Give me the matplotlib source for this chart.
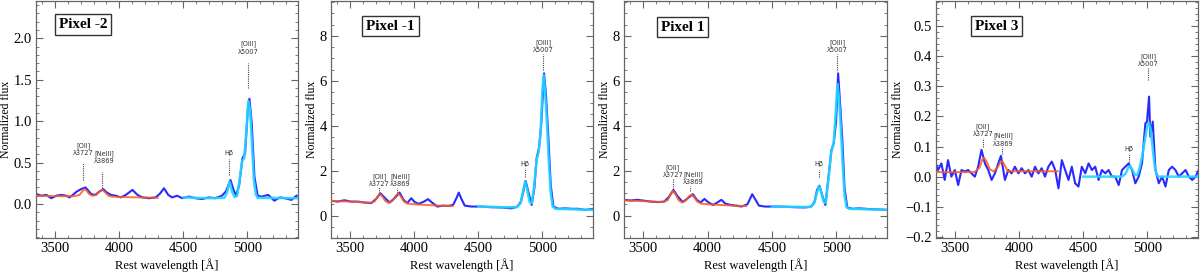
import matplotlib
matplotlib.use("Agg")
import matplotlib.pyplot as plt
from matplotlib.ticker import MultipleLocator, FormatStrFormatter

plt.rcParams['font.family'] = ['Liberation Serif', 'DejaVu Serif']
plt.rcParams['mathtext.fontset'] = 'dejavuserif'

# ---------------- data ----------------
panel_names = ["Pixel -2", "Pixel -1", "Pixel 1", "Pixel 3"]

# Panel 1 (Pixel -2)
wl1 = [3353, 3392, 3431, 3469, 3508, 3547, 3586, 3612, 3637, 3668, 3702, 3736, 3754, 3780, 3813,
       3844, 3875, 3901, 3935, 3974, 4012, 4051, 4103, 4142, 4180, 4232, 4284, 4315, 4349, 4382,
       4413, 4452, 4491, 4543, 4594, 4646, 4698, 4749, 4801, 4832, 4868, 4892, 4912, 4936, 4961,
       4982, 5003, 5016, 5034, 5055, 5080, 5111, 5163, 5210, 5254, 5293, 5344, 5383]
f1 = [0.12, 0.10, 0.11, 0.07, 0.10, 0.11, 0.10, 0.08, 0.11, 0.15, 0.18, 0.20, 0.17, 0.12, 0.11,
      0.15, 0.18, 0.14, 0.11, 0.10, 0.08, 0.11, 0.17, 0.11, 0.08, 0.07, 0.08, 0.12, 0.19, 0.11,
      0.08, 0.10, 0.07, 0.09, 0.07, 0.06, 0.08, 0.07, 0.10, 0.15, 0.29, 0.17, 0.10, 0.23, 0.55,
      0.61, 1.13, 1.27, 0.97, 0.33, 0.10, 0.09, 0.11, 0.04, 0.08, 0.07, 0.05, 0.10]
owl1 = [3350, 3500, 3650, 3690, 3710, 3727, 3745, 3765, 3790, 3820, 3845, 3869, 3890, 3915, 3940, 4000, 4150, 4300]
of1 = [0.10, 0.095, 0.095, 0.11, 0.15, 0.18, 0.16, 0.12, 0.10, 0.11, 0.15, 0.17, 0.14, 0.10, 0.09, 0.085, 0.08, 0.075]
cwl1 = [4500, 4700, 4820, 4840, 4861, 4880, 4900, 4920, 4940, 4959, 4975, 4990, 5007, 5020, 5035, 5050, 5065, 5080, 5400]
cf1 = [0.08, 0.07, 0.075, 0.13, 0.27, 0.15, 0.085, 0.10, 0.30, 0.52, 0.55, 0.85, 1.24, 1.15, 0.75, 0.30, 0.12, 0.075, 0.07]

# Panel 2 (Pixel -1)
wl2 = [3350, 3402, 3454, 3507, 3559, 3611, 3663, 3702, 3736, 3768, 3807, 3846, 3885, 3916, 3945,
       3976, 4003, 4034, 4076, 4107, 4138, 4180, 4224, 4264, 4303, 4329, 4347, 4368, 4394, 4446,
       4525, 4603, 4681, 4759, 4806, 4832, 4851, 4869, 4890, 4916, 4937, 4955, 4973, 4989, 5013,
       5028, 5047, 5065, 5086, 5125, 5177, 5229, 5281, 5334, 5399]
f2 = [0.66, 0.62, 0.68, 0.62, 0.62, 0.58, 0.55, 0.74, 0.99, 0.80, 0.58, 0.77, 1.02, 0.70, 0.55,
      0.77, 0.60, 0.52, 0.62, 0.73, 0.58, 0.40, 0.44, 0.43, 0.47, 0.77, 1.02, 0.74, 0.44, 0.40,
      0.40, 0.37, 0.36, 0.32, 0.40, 0.62, 1.07, 1.54, 1.07, 0.47, 1.22, 2.55, 3.00, 3.90, 6.33,
      5.37, 3.44, 1.36, 0.40, 0.30, 0.32, 0.30, 0.30, 0.25, 0.30]
owl2 = [3350, 3500, 3650, 3690, 3710, 3730, 3750, 3775, 3800, 3830, 3855, 3875, 3895, 3920, 3950, 4000, 4100, 4200, 4300]
of2 = [0.65, 0.62, 0.57, 0.62, 0.82, 0.96, 0.85, 0.64, 0.56, 0.65, 0.88, 0.98, 0.85, 0.62, 0.53, 0.50, 0.47, 0.44, 0.42]
cwl2 = [4500, 4700, 4800, 4830, 4850, 4865, 4880, 4900, 4918, 4935, 4955, 4970, 4985, 5000, 5010, 5020, 5035, 5050, 5065, 5080, 5100, 5400]
cf2 = [0.40, 0.37, 0.37, 0.55, 1.10, 1.52, 1.20, 0.60, 0.55, 1.30, 2.50, 2.80, 3.60, 5.60, 6.25, 5.60, 4.20, 2.40, 1.00, 0.40, 0.30, 0.25]

# Panel 3 (Pixel 1)
wl3 = [3350, 3402, 3454, 3507, 3559, 3611, 3663, 3702, 3734, 3768, 3807, 3846, 3885, 3916, 3945,
       3976, 4003, 4042, 4076, 4107, 4138, 4180, 4224, 4264, 4310, 4347, 4373, 4399, 4446, 4525,
       4603, 4681, 4759, 4806, 4832, 4851, 4869, 4890, 4916, 4942, 4963, 4981, 4999, 5015, 5031,
       5047, 5065, 5086, 5125, 5177, 5229, 5281, 5334, 5399]
f3 = [0.70, 0.67, 0.70, 0.66, 0.62, 0.60, 0.62, 0.85, 1.14, 0.85, 0.60, 0.77, 0.95, 0.70, 0.58,
      0.74, 0.60, 0.47, 0.58, 0.70, 0.53, 0.47, 0.44, 0.40, 0.50, 0.95, 0.70, 0.44, 0.40, 0.40,
      0.39, 0.37, 0.36, 0.40, 0.62, 1.14, 1.33, 0.92, 0.47, 1.81, 2.92, 3.22, 4.18, 6.33, 4.92,
      3.44, 1.22, 0.36, 0.30, 0.32, 0.30, 0.28, 0.27, 0.25]
owl3 = [3350, 3500, 3650, 3690, 3710, 3730, 3750, 3775, 3800, 3830, 3855, 3875, 3895, 3920, 3950, 4000, 4100, 4200, 4300]
of3 = [0.67, 0.64, 0.60, 0.68, 0.92, 1.10, 0.95, 0.68, 0.58, 0.66, 0.85, 0.93, 0.82, 0.62, 0.53, 0.50, 0.47, 0.44, 0.42]
cwl3 = [4500, 4800, 4830, 4850, 4865, 4880, 4900, 4918, 4940, 4960, 4980, 4995, 5010, 5022, 5035, 5050, 5065, 5080, 5100, 5400]
cf3 = [0.40, 0.38, 0.55, 1.00, 1.30, 1.15, 0.65, 0.55, 1.60, 2.80, 3.20, 4.50, 5.85, 5.20, 4.00, 2.30, 0.90, 0.38, 0.30, 0.25]

# Panel 4 (Pixel 3)
wl4 = [3340, 3366, 3392, 3418, 3444, 3470, 3497, 3523, 3549, 3575, 3601, 3627, 3653, 3679, 3705,
       3732, 3758, 3784, 3810, 3836, 3857, 3888, 3914, 3940, 3966, 3993, 4019, 4045, 4071, 4097,
       4123, 4149, 4175, 4201, 4227, 4254, 4280, 4306, 4332, 4358, 4384, 4410, 4436, 4462, 4488,
       4515, 4541, 4567, 4593, 4619, 4645, 4671, 4697, 4723, 4749, 4776, 4802, 4828, 4854, 4880,
       4906, 4932, 4958, 4984, 4997, 5013, 5023, 5042, 5063, 5089, 5115, 5141, 5167, 5193, 5219,
       5245, 5271, 5298, 5324, 5350, 5376, 5398]
f4 = [0.055, 0.022, 0.044, -0.011, 0.055, 0.000, 0.022, -0.028, 0.022, 0.017, 0.022, 0.011, 0.000, 0.033, 0.089,
      0.044, 0.022, -0.011, 0.011, 0.044, 0.069, -0.011, 0.022, 0.011, 0.033, 0.011, 0.028, 0.011, 0.022, 0.000,
      0.033, 0.011, 0.028, 0.000, 0.033, 0.050, 0.022, -0.039, 0.055, 0.022, -0.011, 0.033, -0.022, -0.033, 0.033,
      0.011, 0.044, 0.022, 0.033, -0.011, 0.022, 0.011, 0.022, 0.000, 0.000, -0.028, 0.022, 0.033, 0.044, 0.022,
      -0.022, 0.000, 0.044, 0.177, 0.183, 0.266, 0.133, 0.183, 0.022, -0.022, 0.000, -0.033, 0.022, 0.033, 0.022,
      0.000, 0.011, 0.022, 0.000, -0.011, 0.000, 0.020]
owl4 = [3350, 3650, 3690, 3710, 3725, 3745, 3770, 3800, 3830, 3855, 3870, 3890, 3910, 4300]
of4 = [0.015, 0.015, 0.030, 0.055, 0.063, 0.050, 0.025, 0.017, 0.030, 0.050, 0.050, 0.035, 0.018, 0.018]
cwl4 = [4500, 4800, 4830, 4850, 4865, 4880, 4900, 4920, 4940, 4960, 4980, 5000, 5010, 5025, 5040, 5055, 5070, 5085, 5400]
cf4 = [0.0, 0.0, 0.010, 0.030, 0.035, 0.025, 0.008, 0.005, 0.030, 0.070, 0.120, 0.170, 0.180, 0.160, 0.100, 0.040, 0.010, 0.0, 0.0]

# line labels: (text, x_text, y_text, x_line, y_line_bottom, y_line_top)
labels1 = [("[OII]\nλ3727", 3720, 0.66, 3720, 0.29, 0.49),
           ("[NeIII]\nλ3869", 3880, 0.565, 3867, 0.19, 0.39),
           ("Hβ", 4858, 0.61, 4858, 0.35, 0.54),
           ("[OIII]\nλ5007", 5007, 1.885, 5007, 1.40, 1.70)]
labels2 = [("[OII]\nλ3727", 3725, 1.57, 3727, 1.00, 1.27),
           ("[NeIII]\nλ3869", 3890, 1.57, 3868, 1.00, 1.23),
           ("Hβ", 4862, 2.30, 4862, 1.70, 2.10),
           ("[OIII]\nλ5007", 5010, 7.55, 5007, 6.50, 7.20)]
labels3 = [("[OII]\nλ3727", 3730, 1.97, 3730, 1.18, 1.67),
           ("[NeIII]\nλ3869", 3891, 1.66, 3867, 1.10, 1.30),
           ("Hβ", 4866, 2.30, 4866, 1.70, 2.03),
           ("[OIII]\nλ5007", 5009, 7.55, 5007, 6.50, 7.20)]
labels4 = [("[OII]\nλ3727", 3716, 0.155, 3716, 0.100, 0.128),
           ("[NeIII]\nλ3869", 3872, 0.1235, 3862, 0.075, 0.100),
           ("Hβ", 4859, 0.091, 4859, 0.050, 0.075),
           ("[OIII]\nλ5007", 5008, 0.388, 5008, 0.320, 0.360)]

ylims = [(-0.41, 2.45), (-1.0, 9.55), (-1.0, 9.55), (-0.204, 0.584)]
ymajor = [0.5, 2, 2, 0.1]
yminor = [0.1, 0.5, 0.5, 0.02]
yfmt = ["%.1f", "%d", "%d", "%.1f"]

# axes placement (pixels of the 1200x272 figure)
positions = [(36, 298), (331, 593), (624, 887), (936, 1198)]
box_xy = [(0.18, 0.90), (0.227, 0.894), (0.223, 0.89), (0.232, 0.894)]

fig = plt.figure(figsize=(12, 2.72), dpi=100)
W, H = 1200, 272

spectra = [(wl1, f1), (wl2, f2), (wl3, f3), (wl4, f4)]
ofits = [(owl1, of1), (owl2, of2), (owl3, of3), (owl4, of4)]
cfits = [(cwl1, cf1), (cwl2, cf2), (cwl3, cf3), (cwl4, cf4)]
all_labels = [labels1, labels2, labels3, labels4]

for i in range(4):
    x0, x1 = positions[i]
    ax = fig.add_axes([x0 / W, 1 - 238 / H, (x1 - x0) / W, (238 - 1) / H])
    wl, fl = spectra[i]
    ax.plot(wl, fl, color='#2a2aff', lw=1.5, zorder=2)
    ax.plot(*ofits[i], color='#ff5a1a', lw=1.4, alpha=0.85, zorder=3)
    ax.plot(*cfits[i], color='#22d8ff', lw=1.8, alpha=0.9, zorder=3)

    for (txt, xt, yt, xl, yb, ytp) in all_labels[i]:
        ax.text(xt, yt, txt, ha='center', va='center', fontsize=4.8,
                family=['DejaVu Sans'], color='#333333', linespacing=1.3, zorder=4)
        ax.plot([xl, xl], [yb, ytp], ls=(0, (1, 1)), color='#444444', lw=0.8, zorder=4)

    ax.set_xlim(3350, 5395)
    ax.set_ylim(*ylims[i])
    ax.xaxis.set_major_locator(MultipleLocator(500))
    ax.xaxis.set_minor_locator(MultipleLocator(100))
    ax.yaxis.set_major_locator(MultipleLocator(ymajor[i]))
    ax.yaxis.set_minor_locator(MultipleLocator(yminor[i]))
    if i == 3:
        ax.yaxis.set_major_formatter(plt.FuncFormatter(lambda v, p: ("%.1f" % v).replace("-", "\u2212")))
    else:
        ax.yaxis.set_major_formatter(FormatStrFormatter(yfmt[i]))
    ax.tick_params(which='both', direction='in', top=True, right=True,
                   color='#666666', labelsize=10.5, pad=3)
    ax.tick_params(which='major', length=5, width=0.8)
    ax.tick_params(which='minor', length=2.5, width=0.6)
    for s in ax.spines.values():
        s.set_color('#666666')
        s.set_linewidth(0.9)
    ax.set_xlabel("Rest wavelength [Å]", fontsize=9, labelpad=2)
    ax.set_ylabel("Normalized flux", fontsize=8.5, labelpad=1)

    bx, by = box_xy[i]
    ax.text(bx, by, panel_names[i], transform=ax.transAxes, ha='center', va='center',
            fontsize=11, fontweight='bold', zorder=5,
            bbox=dict(boxstyle='square,pad=0.25', fc='white', ec='#333333', lw=1.0))

fig.savefig("out.png", dpi=100)
